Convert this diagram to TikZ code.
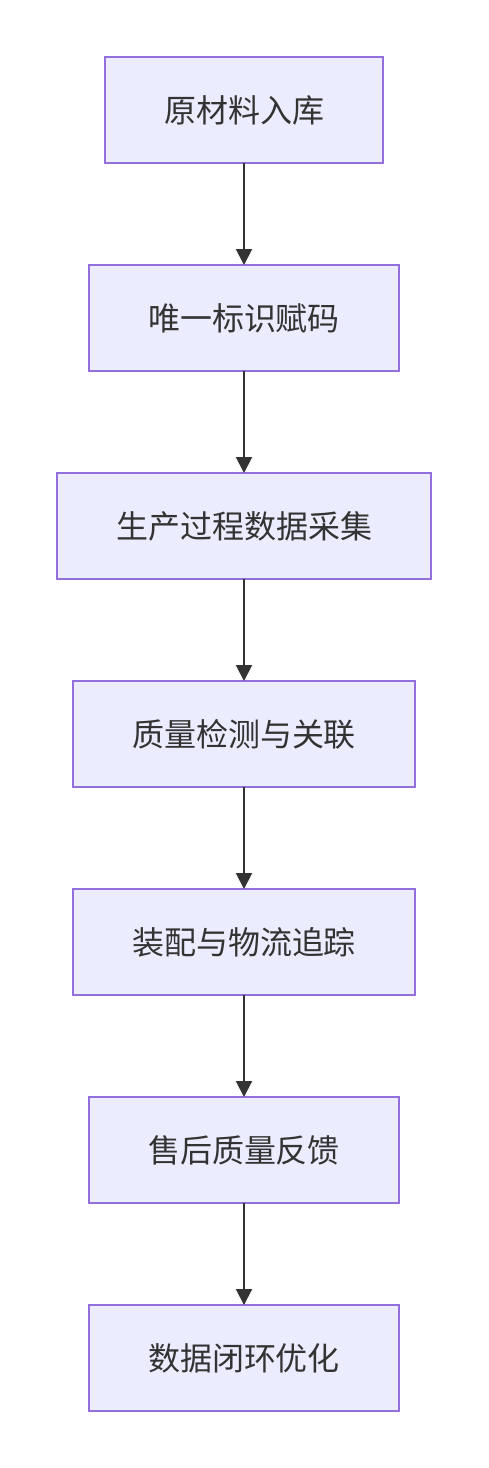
\documentclass[tikz,border=0pt]{standalone}
\usepackage{fontspec}
\newfontfamily\cjk{Noto Sans CJK SC}
\usepackage{tikz}
\usetikzlibrary{positioning, arrows.meta}
\definecolor{boxfill}{HTML}{ECECFF}
\definecolor{boxline}{HTML}{9370DB}
\definecolor{linkcol}{HTML}{333333}
\tikzset{stage/.style={draw=boxline,fill=boxfill,line width=1pt,minimum height=53pt,inner sep=0pt,outer sep=0pt,font=\cjk\fontsize{16}{18}\selectfont,text=linkcol},
  arrow/.style={-{Triangle[length=8pt,width=8pt]},draw=linkcol,line width=1pt}}

\begin{document}
\begin{tikzpicture}
      \useasboundingbox (0,0) rectangle (244pt,-734pt);
      \node[stage,minimum width=139pt](s1) at (122pt,-55pt){原材料入库};
      \node[stage,minimum width=155pt,below=51pt of s1](s2){唯一标识赋码};
      \node[stage,minimum width=187pt,below=51pt of s2](s3){生产过程数据采集};
      \node[stage,minimum width=171pt,below=51pt of s3](s4){质量检测与关联};
      \node[stage,minimum width=171pt,below=51pt of s4](s5){装配与物流追踪};
      \node[stage,minimum width=155pt,below=51pt of s5](s6){售后质量反馈};
      \node[stage,minimum width=155pt,below=51pt of s6](s7){数据闭环优化};
      \foreach \a/\b in {s1/s2,s2/s3,s3/s4,s4/s5,s5/s6,s6/s7}
        \draw[arrow](\a)--(\b);
    \end{tikzpicture}
\end{document}
